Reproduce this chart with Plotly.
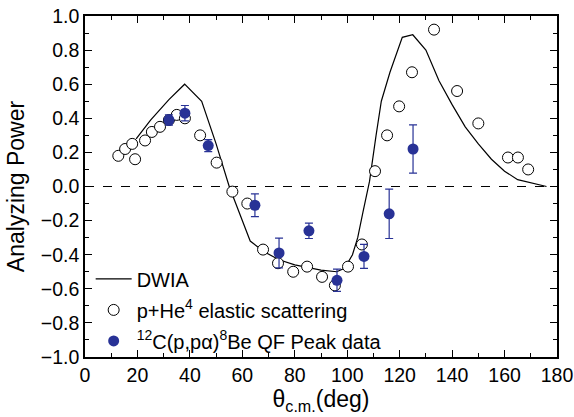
import plotly.graph_objects as go

# DWIA calculation
dwia_theta = [19.5, 25, 32, 38, 44.5, 50, 55, 60, 63, 68, 74, 80, 85, 90, 96, 99,
              102, 104, 106, 108.5, 111, 113, 116.3, 121, 125, 130, 135, 140, 145,
              150, 155, 160, 165, 170, 176]
dwia_ap = [0.28, 0.39, 0.51, 0.60, 0.50, 0.25, 0.0, -0.20, -0.32, -0.38, -0.43, -0.46,
           -0.475, -0.49, -0.50, -0.48, -0.40, -0.30, -0.15, 0.03, 0.30, 0.50, 0.67,
           0.875, 0.89, 0.80, 0.62, 0.48, 0.35, 0.25, 0.16, 0.09, 0.04, 0.02, 0.0]

# p + He4 elastic scattering
el_theta = [12.7, 15.3, 18.0, 19.1, 22.9, 25.5, 28.6, 32.0, 35.0, 38.1, 43.9, 50.2,
            56.2, 61.9, 67.9, 73.6, 79.4, 84.7, 90.4, 95.3, 100.3, 105.6, 110.6,
            115.2, 119.8, 124.7, 133.1, 141.9, 150.0, 161.3, 165.1, 169.0]
el_ap = [0.18, 0.22, 0.25, 0.16, 0.27, 0.32, 0.35, 0.39, 0.42, 0.40, 0.30, 0.14,
         -0.03, -0.10, -0.37, -0.45, -0.50, -0.47, -0.53, -0.58, -0.47, -0.34, 0.09,
         0.30, 0.47, 0.67, 0.92, 0.56, 0.37, 0.17, 0.17, 0.10]

# 12C(p,p alpha)8Be QF peak data
qf_theta = [32.0, 38.1, 47.0, 64.8, 74.0, 85.4, 96.1, 106.4, 116.0, 125.1]
qf_ap = [0.39, 0.43, 0.24, -0.11, -0.39, -0.26, -0.55, -0.41, -0.16, 0.22]
qf_err = [0.03, 0.045, 0.035, 0.067, 0.087, 0.045, 0.065, 0.07, 0.145, 0.142]

blue = "rgb(40,50,150)"
font = "Liberation Sans, Arial, sans-serif"

fig = go.Figure()
fig.add_trace(go.Scatter(x=dwia_theta, y=dwia_ap, mode="lines", name="DWIA",
                         legendgroup="a",
                         line=dict(color="black", width=1.2)))
fig.add_trace(go.Scatter(x=el_theta, y=el_ap, mode="markers",
                         name="p+He<sup>4</sup> elastic scattering",
                         legendgroup="b",
                         marker=dict(symbol="circle", size=11, color="white",
                                     line=dict(color="black", width=1))))
fig.add_trace(go.Scatter(x=qf_theta, y=qf_ap, mode="markers",
                         name="<sup>12</sup>C(p,pα)<sup>8</sup>Be QF Peak data",
                         legendgroup="c",
                         marker=dict(symbol="circle", size=11, color=blue),
                         error_y=dict(type="data", array=qf_err, color=blue,
                                      thickness=1.2, width=4)))

fig.add_hline(y=0, line=dict(color="black", width=1, dash="dash"), layer="below")

fig.update_layout(
    width=574,
    height=417,
    margin=dict(l=85, r=17, t=16, b=60),
    paper_bgcolor="white",
    plot_bgcolor="white",
    font=dict(family=font, size=19.5, color="black"),
    showlegend=True,
    legend=dict(x=0.012, y=-0.01, xanchor="left", yanchor="bottom",
                bgcolor="rgba(0,0,0,0)", font=dict(size=20),
                itemwidth=36, tracegroupgap=2),
)
fig.update_xaxes(
    range=[0, 180], dtick=20, tick0=0, automargin=False,
    ticks="inside", ticklen=7, tickwidth=1, tickcolor="black",
    minor=dict(dtick=10, ticks="inside", ticklen=4, tickcolor="black"),
    showline=True, linecolor="black", linewidth=1.5, mirror="ticks",
    showgrid=False, zeroline=False,
    title=dict(text="θ<sub>c.m.</sub>(deg)", standoff=4),
)
fig.update_yaxes(
    range=[-1.0, 1.0], dtick=0.2, tick0=0, tickformat=".1f", automargin=False,
    ticks="inside", ticklen=7, tickwidth=1, tickcolor="black",
    minor=dict(dtick=0.1, ticks="inside", ticklen=4, tickcolor="black"),
    showline=True, linecolor="black", linewidth=1.5, mirror="ticks",
    showgrid=False, zeroline=False,
    title=dict(text="Analyzing Power", standoff=10),
)

# drop the page's default body margin so the figure sits at the window corner
fig.write_html("out.html", config={"displayModeBar": False},
               post_script="document.body.style.margin='0';")
